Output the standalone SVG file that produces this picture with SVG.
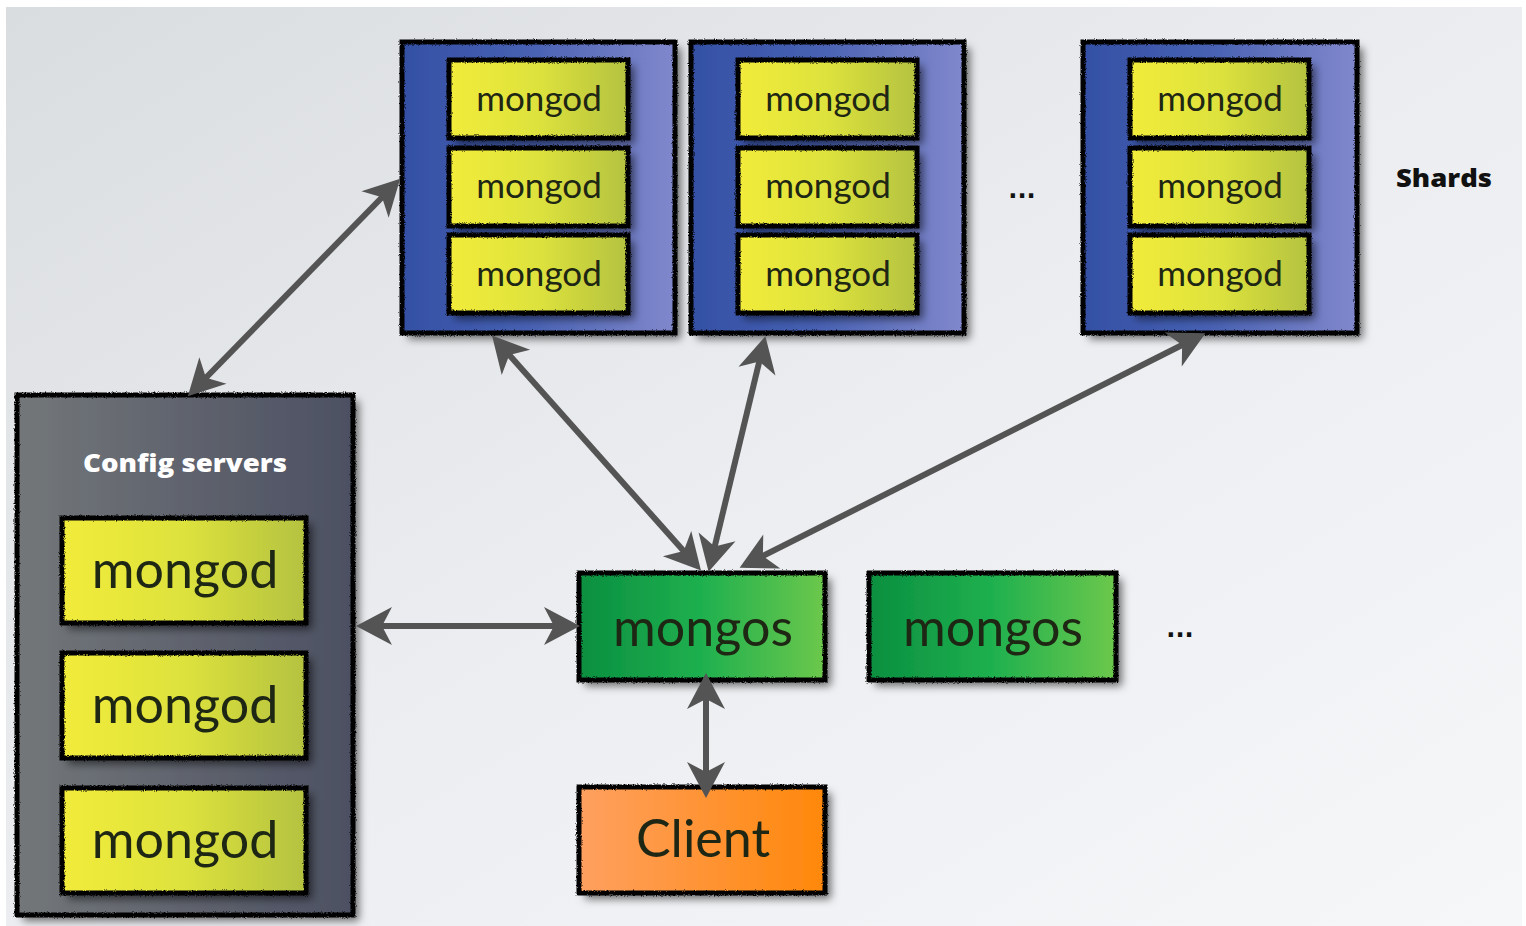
<svg xmlns="http://www.w3.org/2000/svg" width="1526" height="926" viewBox="0 0 1526 926">
  <defs>
    <linearGradient id="bg" x1="0" y1="0" x2="1" y2="1">
      <stop offset="0" stop-color="#dadde0"/>
      <stop offset="0.5" stop-color="#ebedf0"/>
      <stop offset="1" stop-color="#f5f7f9"/>
    </linearGradient>
    <linearGradient id="gShard" x1="0" y1="0" x2="1" y2="0">
      <stop offset="0" stop-color="#3450a4"/>
      <stop offset="0.45" stop-color="#4660b2"/>
      <stop offset="1" stop-color="#8188cc"/>
    </linearGradient>
    <linearGradient id="gConfig" x1="0" y1="0" x2="1" y2="0">
      <stop offset="0" stop-color="#737779"/>
      <stop offset="1" stop-color="#4c5062"/>
    </linearGradient>
    <linearGradient id="gMongod" x1="0" y1="0" x2="1" y2="0">
      <stop offset="0" stop-color="#f2ec3a"/>
      <stop offset="0.5" stop-color="#dde23c"/>
      <stop offset="1" stop-color="#b4c240"/>
    </linearGradient>
    <linearGradient id="gMongos" x1="0" y1="0" x2="1" y2="0">
      <stop offset="0" stop-color="#0a8f40"/>
      <stop offset="0.5" stop-color="#1fb04f"/>
      <stop offset="1" stop-color="#6cc84c"/>
    </linearGradient>
    <linearGradient id="gClient" x1="0" y1="0" x2="1" y2="0">
      <stop offset="0" stop-color="#ffa060"/>
      <stop offset="1" stop-color="#ff880a"/>
    </linearGradient>
    <filter id="shadow" x="-10%" y="-10%" width="130%" height="130%">
      <feDropShadow dx="6" dy="6" stdDeviation="4" flood-color="#000" flood-opacity="0.55"/>
    </filter>
    <filter id="rough" x="-5%" y="-5%" width="110%" height="110%">
      <feTurbulence type="fractalNoise" baseFrequency="0.9" numOctaves="2" seed="4"/>
      <feDisplacementMap in="SourceGraphic" scale="3" xChannelSelector="R" yChannelSelector="G"/>
    </filter>
    <marker id="head" viewBox="-36 -22 44 44" markerWidth="44" markerHeight="44" refX="0" refY="0" orient="auto-start-reverse" markerUnits="userSpaceOnUse">
      <path d="M6,0 L-30,-19 L-20,0 L-30,19 Z" fill="#545454"/>
    </marker>
    <style>
      .edge { fill: none; stroke-width: 5; stroke: #000; filter: url(#rough); }
      .shadowed { filter: url(#shadow); }
      .sm { font-family: Lato, "Open Sans", sans-serif; font-size: 35px; fill: #1e2614; text-anchor: middle; }
      .lg { font-family: Lato, "Open Sans", sans-serif; font-size: 52px; fill: #1e2614; text-anchor: middle; }
      .bold { font-family: "Open Sans", Lato, sans-serif; font-weight: 800; font-size: 25px; text-anchor: middle; }
      .dots { font-family: "DejaVu Sans", sans-serif; font-weight: bold; font-size: 24px; fill: #111; text-anchor: middle; }
      .conn line { stroke: #545454; stroke-width: 6; marker-start: url(#head); marker-end: url(#head); }
    </style>
  </defs>

  <!-- backdrop -->
  <rect x="0" y="0" width="1526" height="926" fill="#ffffff"/>
  <rect x="6" y="7" width="1516" height="919" fill="url(#bg)"/>

  <!-- shard 1 -->
  <g id="shard1">
    <rect class="shadowed" x="402" y="42" width="273" height="291" fill="url(#gShard)"/>
    <rect class="edge" x="402" y="42" width="273" height="291"/>
    <rect class="shadowed" x="449" y="60" width="179" height="78" fill="url(#gMongod)"/>
    <rect class="edge" x="449" y="60" width="179" height="78"/>
    <text class="sm" x="539" y="111">mongod</text>
    <rect class="shadowed" x="449" y="148" width="179" height="78" fill="url(#gMongod)"/>
    <rect class="edge" x="449" y="148" width="179" height="78"/>
    <text class="sm" x="539" y="198">mongod</text>
    <rect class="shadowed" x="449" y="235" width="179" height="78" fill="url(#gMongod)"/>
    <rect class="edge" x="449" y="235" width="179" height="78"/>
    <text class="sm" x="539" y="286">mongod</text>
  </g>

  <!-- shard 2 -->
  <g id="shard2">
    <rect class="shadowed" x="691" y="42" width="273" height="291" fill="url(#gShard)"/>
    <rect class="edge" x="691" y="42" width="273" height="291"/>
    <rect class="shadowed" x="738" y="60" width="179" height="78" fill="url(#gMongod)"/>
    <rect class="edge" x="738" y="60" width="179" height="78"/>
    <text class="sm" x="828" y="111">mongod</text>
    <rect class="shadowed" x="738" y="148" width="179" height="78" fill="url(#gMongod)"/>
    <rect class="edge" x="738" y="148" width="179" height="78"/>
    <text class="sm" x="828" y="198">mongod</text>
    <rect class="shadowed" x="738" y="235" width="179" height="78" fill="url(#gMongod)"/>
    <rect class="edge" x="738" y="235" width="179" height="78"/>
    <text class="sm" x="828" y="286">mongod</text>
  </g>

  <text id="shard-ellipsis" class="dots" x="1022" y="198">...</text>

  <!-- shard 3 -->
  <g id="shard3">
    <rect class="shadowed" x="1083" y="42" width="274" height="291" fill="url(#gShard)"/>
    <rect class="edge" x="1083" y="42" width="274" height="291"/>
    <rect class="shadowed" x="1130" y="60" width="179" height="78" fill="url(#gMongod)"/>
    <rect class="edge" x="1130" y="60" width="179" height="78"/>
    <text class="sm" x="1220" y="111">mongod</text>
    <rect class="shadowed" x="1130" y="148" width="179" height="78" fill="url(#gMongod)"/>
    <rect class="edge" x="1130" y="148" width="179" height="78"/>
    <text class="sm" x="1220" y="198">mongod</text>
    <rect class="shadowed" x="1130" y="235" width="179" height="78" fill="url(#gMongod)"/>
    <rect class="edge" x="1130" y="235" width="179" height="78"/>
    <text class="sm" x="1220" y="286">mongod</text>
  </g>

  <text id="shards-label" class="bold" x="1444" y="187" fill="#111" textLength="96" lengthAdjust="spacingAndGlyphs">Shards</text>

  <!-- config servers -->
  <g id="config">
    <rect class="shadowed" x="17" y="395" width="336" height="520" fill="url(#gConfig)"/>
    <rect class="edge" x="17" y="395" width="336" height="520"/>
    <text class="bold" x="185" y="472" fill="#ffffff" textLength="204" lengthAdjust="spacingAndGlyphs">Config servers</text>
    <rect class="shadowed" x="62" y="518" width="244" height="105" fill="url(#gMongod)"/>
    <rect class="edge" x="62" y="518" width="244" height="105"/>
    <text class="lg" x="185" y="588">mongod</text>
    <rect class="shadowed" x="62" y="653" width="244" height="105" fill="url(#gMongod)"/>
    <rect class="edge" x="62" y="653" width="244" height="105"/>
    <text class="lg" x="185" y="723">mongod</text>
    <rect class="shadowed" x="62" y="788" width="244" height="105" fill="url(#gMongod)"/>
    <rect class="edge" x="62" y="788" width="244" height="105"/>
    <text class="lg" x="185" y="858">mongod</text>
  </g>

  <!-- routers -->
  <g id="mongos1">
    <rect class="shadowed" x="579" y="573" width="246" height="107" fill="url(#gMongos)"/>
    <rect class="edge" x="579" y="573" width="246" height="107"/>
    <text class="lg" x="703" y="646">mongos</text>
  </g>
  <g id="mongos2">
    <rect class="shadowed" x="869" y="573" width="247" height="107" fill="url(#gMongos)"/>
    <rect class="edge" x="869" y="573" width="247" height="107"/>
    <text class="lg" x="993" y="646">mongos</text>
  </g>
  <text id="mongos-ellipsis" class="dots" x="1180" y="637">...</text>

  <!-- client -->
  <g id="client">
    <rect class="shadowed" x="579" y="787" width="246" height="106" fill="url(#gClient)"/>
    <rect class="edge" x="579" y="787" width="246" height="106"/>
    <text class="lg" x="703" y="857" fill="#241a10">Client</text>
  </g>

  <!-- connectors -->
  <g id="connectors" class="conn">
    <line x1="192" y1="392" x2="396" y2="183"/>
    <line x1="362" y1="626" x2="574" y2="626"/>
    <line x1="697" y1="566" x2="496" y2="340"/>
    <line x1="710" y1="566" x2="764" y2="342"/>
    <line x1="745" y1="565" x2="1200" y2="336"/>
    <line x1="706" y1="679" x2="706" y2="792"/>
  </g>
</svg>
